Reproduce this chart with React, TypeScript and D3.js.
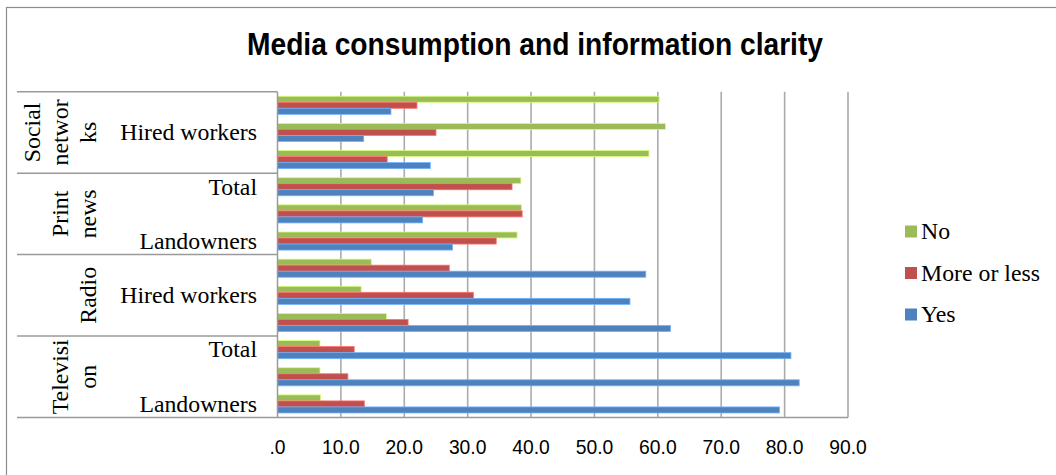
import React from "react";
import * as d3 from "d3";

// Media outlets (outer category level, bottom to top)
const groups = ["Television", "Radio", "Print news", "Social networks"];
// Wrapped, rotated labels for each outlet
const groupLabelLines = [["Televisi", "on"], ["Radio"], ["Print", "news"], ["Social", "networ", "ks"]];
// Respondent type (inner category level)
const subgroups = ["Landowners", "Hired workers", "Total"];

// Percentages per category, bottom to top (TV Land, TV Hired, TV Total, Radio ..., Print ..., Social ...)
const yesValues = [79.2, 82.3, 81.0, 62.0, 55.6, 58.1, 27.6, 22.9, 24.6, 24.1, 13.6, 17.9];
const moreOrLessValues = [13.7, 11.1, 12.1, 20.6, 30.9, 27.1, 34.5, 38.6, 37.0, 17.3, 25.0, 22.0];
const noValues = [6.8, 6.7, 6.7, 17.2, 13.2, 14.8, 37.8, 38.5, 38.4, 58.6, 61.2, 60.2];

const seriesNames = ["No", "More or less", "Yes"];
const seriesColors = ["#9BBB59", "#C0504D", "#4F81BD"];

const xTicks = [0, 10, 20, 30, 40, 50, 60, 70, 80, 90];
const xTickLabels = [".0", "10.0", "20.0", "30.0", "40.0", "50.0", "60.0", "70.0", "80.0", "90.0"];

const title = "Media consumption and information clarity";

const W = 1056;
const H = 475;
const plot = { left: 277.5, right: 848, top: 91.7, bottom: 417.5 };
const serif = "'Liberation Serif', 'Times New Roman', serif";
const sans = "'Liberation Sans', Arial, sans-serif";
const serifSize = 23.8;

export default function App() {
  const categories = groups.flatMap((g) => subgroups.map((s) => `${g}|${s}`));
  const seriesValues = [noValues, moreOrLessValues, yesValues];

  const x = d3.scaleLinear().domain([0, 90]).range([plot.left, plot.right]);
  // top-to-bottom order for the band scale
  const y = d3
    .scaleBand<string>()
    .domain([...categories].reverse())
    .range([plot.top, plot.bottom])
    .paddingInner(1 / 3)
    .paddingOuter(1 / 6);
  const inner = d3.scaleBand<string>().domain(seriesNames).range([0, y.bandwidth()]);

  const step = y.step();
  const boundaryY = (idxFromBottom: number) => plot.bottom - idxFromBottom * step;

  return (
    <svg
      width={W}
      height={H}
      style={{ position: "absolute", left: 0, top: 0, background: "#fff" }}
    >
      {/* chart border */}
      <rect x={6.5} y={7.5} width={W + 10} height={H + 10} fill="#fff" stroke="#8c8c8c" strokeWidth={1.2} />

      <text
        x={535}
        y={55}
        textAnchor="middle"
        fontFamily={sans}
        fontWeight="bold"
        fontSize={31}
        textLength={576}
        lengthAdjust="spacingAndGlyphs"
        fill="#000"
      >
        {title}
      </text>

      {/* vertical gridlines */}
      {xTicks.slice(1).map((t) => (
        <line key={t} x1={x(t)} x2={x(t)} y1={plot.top} y2={plot.bottom} stroke="#ababab" strokeWidth={1.6} />
      ))}

      {/* bars */}
      {categories.map((c, i) =>
        seriesNames.map((s, k) => {
          const v = seriesValues[k][i];
          const color = seriesColors[k];
          return (
            <rect
              key={`${c}-${s}`}
              x={x(0)}
              y={(y(c) as number) + (inner(s) as number)}
              width={x(v) - x(0)}
              height={inner.bandwidth()}
              fill={color}
              stroke={d3.color(color)!.brighter(0.9).formatHex()}
              strokeWidth={0.8}
            />
          );
        })
      )}

      {/* category axis line */}
      <line x1={plot.left} x2={plot.left} y1={plot.top} y2={plot.bottom} stroke="#9a9a9a" strokeWidth={1.5} />

      {/* group separators */}
      {d3.range(groups.length + 1).map((g) => (
        <line
          key={g}
          x1={17}
          x2={g === 0 ? plot.right : plot.left}
          y1={boundaryY(g * subgroups.length)}
          y2={boundaryY(g * subgroups.length)}
          stroke="#9a9a9a"
          strokeWidth={1.5}
        />
      ))}

      {/* inner category labels (every other one shown) */}
      {categories.map((c, i) =>
        i % 2 === 0 ? (
          <text
            key={c}
            x={257}
            y={(y(c) as number) + y.bandwidth() / 2 + 7.8}
            textAnchor="end"
            fontFamily={serif}
            fontSize={serifSize}
            fill="#000"
          >
            {c.split("|")[1]}
          </text>
        ) : null
      )}

      {/* outer category labels, rotated */}
      {groups.map((g, gi) => {
        const cy = (boundaryY(gi * 3) + boundaryY(gi * 3 + 3)) / 2;
        const lines = groupLabelLines[gi];
        return (
          <g key={g}>
            {lines.map((ln, li) => {
              const bx = 96 - (lines.length - 1 - li) * 28;
              return (
                <text
                  key={li}
                  transform={`translate(${bx},${cy}) rotate(-90)`}
                  textAnchor="middle"
                  fontFamily={serif}
                  fontSize={serifSize}
                  fill="#000"
                >
                  {ln}
                </text>
              );
            })}
          </g>
        );
      })}

      {/* value axis labels */}
      {xTicks.map((t, i) => (
        <text
          key={t}
          transform={`translate(${x(t)},${454}) scale(0.92,1)`}
          textAnchor="middle"
          fontFamily={sans}
          fontSize={21}
          fill="#000"
        >
          {xTickLabels[i]}
        </text>
      ))}

      {/* legend */}
      {seriesNames.map((s, k) => {
        const ly = 231.5 + k * 41.5;
        return (
          <g key={s}>
            <rect x={905} y={ly - 6} width={12} height={12} fill={seriesColors[k]} />
            <text x={921} y={ly + 7.8} fontFamily={serif} fontSize={serifSize} fill="#000">
              {s}
            </text>
          </g>
        );
      })}
    </svg>
  );
}
